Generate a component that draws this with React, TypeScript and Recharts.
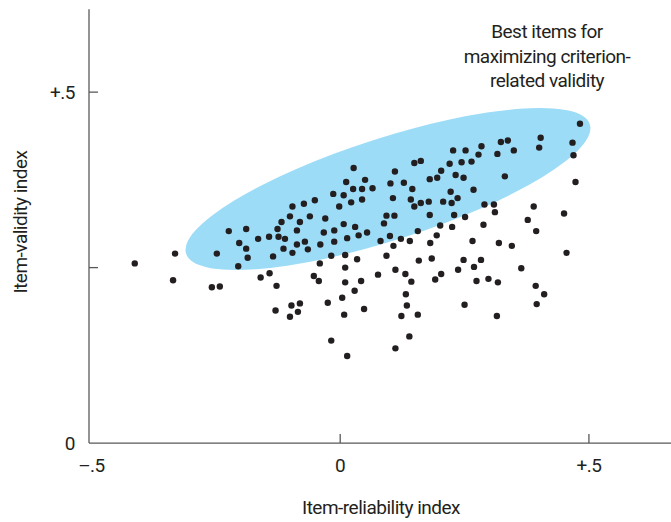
import React from 'react';
import { ScatterChart, Scatter, XAxis, YAxis } from 'recharts';

// item-reliability index (x) and item-validity index (y) per item
const reliability = [
  -0.413, -0.332, -0.336, -0.258, -0.242, -0.248, -0.224, -0.189, -0.203, -0.189,
  -0.186, -0.205, -0.165, -0.143, -0.160, -0.142, -0.135, -0.128, -0.130,
  0.027, 0.012, 0.050, 0.026, 0.044, 0.065, -0.014, 0.007, 0.022, 0.044,
  -0.002, -0.051, -0.073, -0.096, -0.101, -0.118, -0.081, -0.061, -0.030, -0.126,
  -0.087, -0.012, 0.007, 0.030, 0.093, 0.109, 0.088, 0.106, 0.101, 0.128, 0.110,
  0.482, 0.403, 0.400, 0.467, 0.469, 0.473, 0.450, 0.323, 0.337, 0.349,
  0.316, 0.284, 0.278, 0.252, 0.227, 0.244, 0.264, 0.220, 0.162, 0.149,
  0.203, 0.195, 0.180, 0.232, 0.248, 0.331, 0.145, 0.268, 0.222, 0.142,
  0.149, 0.162, 0.178, 0.207, 0.224, 0.236, 0.180, 0.229, 0.251, 0.290,
  0.309, 0.311, 0.389, 0.377, 0.394, 0.201, 0.225, 0.288, 0.156,
  -0.124, -0.111, -0.033, -0.071, -0.087, -0.114, -0.096, -0.065, -0.040, -0.012,
  0.014, 0.037, 0.054, -0.018, 0.010, 0.034, -0.041, 0.010, -0.053, -0.043,
  0.010, 0.042, 0.029, 0.004, -0.025, 0.048, 0.008, -0.018, 0.014, -0.098,
  -0.081, -0.085, -0.101, 0.081, 0.100, 0.122, 0.140, 0.107, 0.093, 0.076,
  0.111, 0.131, 0.143, 0.132, 0.134, 0.123, 0.156, 0.139, 0.111, 0.158,
  0.184, 0.181, 0.194, 0.203, 0.191, 0.237, 0.248, 0.269, 0.283, 0.266,
  0.319, 0.345, 0.274, 0.298, 0.317, 0.364, 0.250, 0.315, 0.393, 0.410,
  0.395, 0.455,
];
const validity = [
  0.256, 0.270, 0.232, 0.222, 0.223, 0.270, 0.302, 0.305, 0.285, 0.277,
  0.264, 0.252, 0.291, 0.294, 0.236, 0.242, 0.266, 0.224, 0.189,
  0.392, 0.372, 0.375, 0.362, 0.362, 0.363, 0.355, 0.353, 0.343, 0.347,
  0.337, 0.346, 0.341, 0.337, 0.323, 0.315, 0.315, 0.323, 0.320, 0.305,
  0.303, 0.303, 0.312, 0.308, 0.324, 0.324, 0.313, 0.349, 0.370, 0.371, 0.387,
  0.455, 0.435, 0.421, 0.428, 0.410, 0.372, 0.327, 0.429, 0.431, 0.417,
  0.412, 0.423, 0.411, 0.417, 0.417, 0.400, 0.401, 0.398, 0.402, 0.399,
  0.388, 0.378, 0.376, 0.382, 0.378, 0.380, 0.362, 0.361, 0.358, 0.347,
  0.337, 0.342, 0.344, 0.344, 0.342, 0.349, 0.325, 0.325, 0.322, 0.340,
  0.340, 0.329, 0.337, 0.318, 0.302, 0.310, 0.308, 0.311, 0.302,
  0.294, 0.291, 0.300, 0.287, 0.283, 0.277, 0.271, 0.276, 0.283, 0.287,
  0.292, 0.296, 0.300, 0.267, 0.268, 0.262, 0.256, 0.250, 0.238, 0.231,
  0.229, 0.231, 0.217, 0.207, 0.200, 0.191, 0.183, 0.146, 0.124, 0.196,
  0.199, 0.187, 0.180, 0.288, 0.295, 0.291, 0.288, 0.281, 0.267, 0.240,
  0.247, 0.241, 0.230, 0.212, 0.196, 0.181, 0.183, 0.152, 0.135, 0.260,
  0.263, 0.285, 0.296, 0.241, 0.233, 0.247, 0.261, 0.251, 0.261, 0.288,
  0.285, 0.281, 0.231, 0.234, 0.229, 0.249, 0.197, 0.181, 0.224, 0.212,
  0.198, 0.271,
];

// centre of the highlighted region
const regionCentre = [{ x: 0.096, y: 0.362 }];

const xTicks = [-0.5, 0, 0.5];
const xTickLabels = ['–.5', '0', '+.5'];
const yTicks = [0, 0.25, 0.5];
const yTickLabels = ['0', '', '+.5'];

const points = reliability.map((r, i) => ({ x: r, y: validity[i] }));

const FONT = '"Roboto", sans-serif';
const INK = '#231f20';
const AXIS = '#58595b';

const XTick = (props: any) => {
  const { x, y, payload } = props;
  const i = xTicks.indexOf(payload.value);
  return (
    <g>
      {payload.value !== -0.5 && <line x1={x} y1={y} x2={x} y2={y - 9} stroke={AXIS} strokeWidth={1.3} />}
      <text x={x} y={y + 29} textAnchor="middle" fontFamily={FONT} fontSize={19} fill={INK} letterSpacing={-0.5}>
        {xTickLabels[i]}
      </text>
    </g>
  );
};

const YTick = (props: any) => {
  const { x, y, payload } = props;
  const i = yTicks.indexOf(payload.value);
  return (
    <g>
      {payload.value !== 0 && <line x1={x} y1={y} x2={x + 9} y2={y} stroke={AXIS} strokeWidth={1.3} />}
      <text x={x - 14} y={y + 6.5} textAnchor="end" fontFamily={FONT} fontSize={19} fill={INK} letterSpacing={-0.5}>
        {yTickLabels[i]}
      </text>
    </g>
  );
};

const RegionShape = (props: any) => (
  <ellipse
    cx={props.cx}
    cy={props.cy}
    rx={212}
    ry={51}
    transform={`rotate(-17.8 ${props.cx} ${props.cy})`}
    fill="#9ddcf7"
  />
);

const Dot = (props: any) => <circle cx={props.cx} cy={props.cy} r={3.2} fill={INK} />;

const App = () => {
  return (
    <div style={{ position: 'absolute', left: 0, top: 0, width: 671, height: 522, background: '#fff', fontFamily: FONT, color: INK, letterSpacing: '-0.5px' }}>
      <ScatterChart width={671} height={522} margin={{ top: 9.3, right: 0, bottom: 0, left: 0 }}>
        <XAxis
          type="number"
          dataKey="x"
          domain={[-0.505, 0.665]}
          ticks={xTicks}
          allowDataOverflow
          height={78.9}
          stroke={AXIS}
          strokeWidth={1.3}
          tickLine={false}
          tickSize={0}
          tickMargin={0}
          tick={<XTick />}
          interval={0}
        />
        <YAxis
          type="number"
          dataKey="y"
          domain={[0, 0.618]}
          ticks={yTicks}
          allowDataOverflow
          width={89}
          stroke={AXIS}
          strokeWidth={1.3}
          tickLine={false}
          tickSize={0}
          tickMargin={0}
          tick={<YTick />}
          interval={0}
        />
        <Scatter data={regionCentre} shape={<RegionShape />} isAnimationActive={false} />
        <Scatter data={points} shape={<Dot />} isAnimationActive={false} />
      </ScatterChart>
      <div style={{ position: 'absolute', left: 447, top: 20, width: 200, textAlign: 'center', fontSize: 19, lineHeight: '24.5px' }}>
        Best items for
        <br />
        maximizing criterion-
        <br />
        related validity
      </div>
      <div style={{ position: 'absolute', left: 231, top: 496, width: 300, textAlign: 'center', fontSize: 19, lineHeight: '24px' }}>
        Item-reliability index
      </div>
      <div
        style={{
          position: 'absolute',
          left: 21 - 100,
          top: 222 - 12,
          width: 200,
          textAlign: 'center',
          fontSize: 19,
          lineHeight: '24px',
          transform: 'rotate(-90deg)',
        }}
      >
        Item-validity index
      </div>
    </div>
  );
};

export default App;
